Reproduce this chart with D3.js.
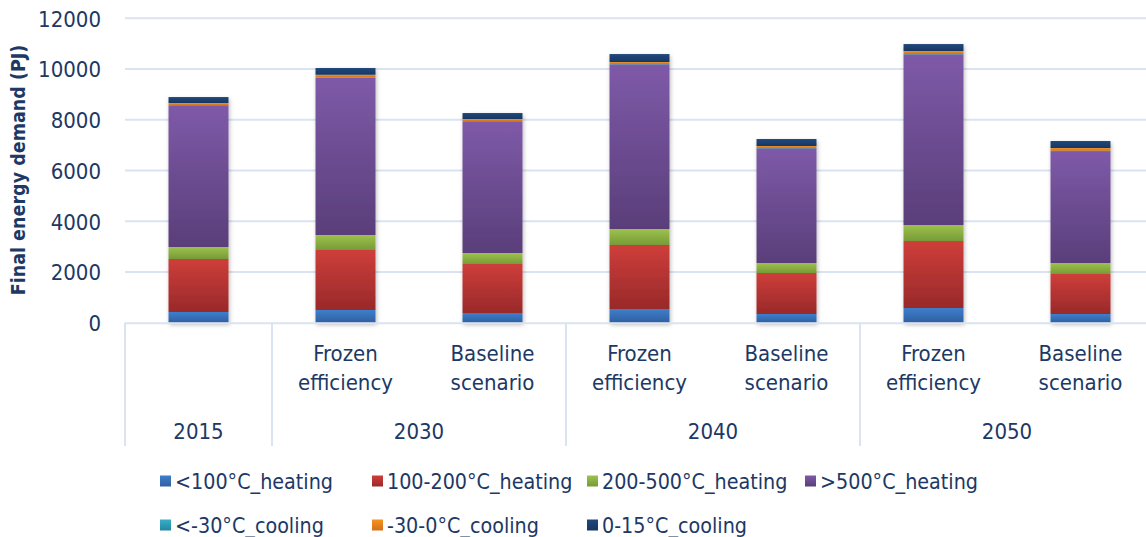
<!DOCTYPE html>
<html>
<head>
<meta charset="utf-8">
<script src="https://cdn.jsdelivr.net/npm/d3@7"></script>
<style>
  html, body { margin: 0; padding: 0; background: #fff; }
  svg { display: block; }
  text { font-family: "Liberation Sans Narrow", "DejaVu Sans Condensed", "Open Sans", sans-serif; fill: #203864; }
</style>
</head>
<body>
<svg id="chart" width="1146" height="537"></svg>
<script>
// Scenario columns: year group and scenario label
const years = ["2015", "2030", "2040", "2050"];
const yearSpans = [1, 2, 2, 2];
const scenarios = ["", "Frozen efficiency", "Baseline scenario", "Frozen efficiency", "Baseline scenario", "Frozen efficiency", "Baseline scenario"];

// Final energy demand (PJ) by temperature band, one value per column
const heatBelow100 = [422, 501, 382, 540, 343, 579, 343];
const heat100to200 = [2089, 2365, 1932, 2523, 1616, 2641, 1577];
const heat200to500 = [473, 591, 433, 630, 394, 631, 433];
const heatAbove500 = [5582, 6201, 5188, 6489, 4518, 6725, 4412];
const coolBelowMinus30 = [15, 15, 15, 15, 15, 15, 15];
const coolMinus30to0 = [79, 102, 80, 79, 79, 118, 106];
const cool0to15 = [236, 265, 236, 315, 276, 276, 277];

const seriesNames = ["<100°C_heating", "100-200°C_heating", "200-500°C_heating", ">500°C_heating",
                     "<-30°C_cooling", "-30-0°C_cooling", "0-15°C_cooling"];
const seriesValues = [heatBelow100, heat100to200, heat200to500, heatAbove500,
                      coolBelowMinus30, coolMinus30to0, cool0to15];
const yTicks = [0, 2000, 4000, 6000, 8000, 10000, 12000];

// Gradient stops (top, bottom) per series
const seriesColors = [
  ["#3e7ecc", "#2f60a0"],
  ["#ce3e3a", "#99292a"],
  ["#9dc24b", "#779a38"],
  ["#7e5aa8", "#5a3e7a"],
  ["#35afcc", "#25869d"],
  ["#f7931f", "#d2701a"],
  ["#21497e", "#173760"]
];

const svg = d3.select("#chart");
const plotLeft = 125, plotRight = 1154, plotTop = 18.3, plotBottom = 322.7, axisBottom = 446;

const rows = scenarios.map((s, i) => {
  const r = { idx: i };
  seriesNames.forEach((n, k) => { r[n] = seriesValues[k][i]; });
  return r;
});

const x = d3.scaleBand().domain(d3.range(scenarios.length))
  .range([plotLeft, plotRight]).paddingInner(0.592).paddingOuter(0.296);
const y = d3.scaleLinear().domain([0, 12000]).range([plotBottom, plotTop]);

const defs = svg.append("defs");
seriesColors.forEach((c, k) => {
  const g = defs.append("linearGradient").attr("id", "grad" + k)
    .attr("x1", 0).attr("y1", 0).attr("x2", 0).attr("y2", 1);
  g.append("stop").attr("offset", "0%").attr("stop-color", c[0]);
  g.append("stop").attr("offset", "100%").attr("stop-color", c[1]);
});
const shadow = defs.append("filter").attr("id", "barShadow")
  .attr("x", "-30%").attr("y", "-10%").attr("width", "160%").attr("height", "120%");
shadow.append("feDropShadow").attr("dx", 1).attr("dy", 2).attr("stdDeviation", 2.2)
  .attr("flood-color", "#000").attr("flood-opacity", 0.28);

// Horizontal gridlines
svg.append("g").selectAll("line").data(yTicks.filter(t => t > 0)).join("line")
  .attr("x1", plotLeft).attr("x2", 1146)
  .attr("y1", d => y(d)).attr("y2", d => y(d))
  .attr("stroke", "#d9e3f2").attr("stroke-width", 2);

// Y axis tick labels
const yAxis = d3.axisLeft(y).tickValues(yTicks).tickSize(0).tickPadding(0).tickFormat(d3.format("d"));
const yg = svg.append("g").attr("transform", "translate(101,0)").call(yAxis);
yg.select(".domain").remove();
yg.selectAll("text").attr("font-size", 22).attr("dy", "0.36em")
  .style("font-family", "\"Liberation Sans Narrow\", \"DejaVu Sans Condensed\", sans-serif")
  .attr("fill", "#203864");

// Y axis title
svg.append("text")
  .attr("transform", "translate(25,170) rotate(-90)")
  .attr("text-anchor", "middle")
  .attr("font-size", 19.5).attr("font-weight", "bold")
  .text("Final energy demand (PJ)");

// Stacked columns
const stacked = d3.stack().keys(seriesNames)(rows);
const columns = svg.append("g").selectAll("g").data(rows).join("g")
  .attr("filter", "url(#barShadow)");
columns.selectAll("rect")
  .data(r => stacked.map((s, k) => ({ k, v: s[r.idx], i: r.idx })))
  .join("rect")
  .attr("x", d => x(d.i))
  .attr("width", x.bandwidth())
  .attr("y", d => y(d.v[1]))
  .attr("height", d => y(d.v[0]) - y(d.v[1]))
  .attr("fill", d => "url(#grad" + d.k + ")");

// Category axis: baseline and group separators
svg.append("line").attr("x1", plotLeft).attr("x2", 1146)
  .attr("y1", plotBottom + 0.5).attr("y2", plotBottom + 0.5)
  .attr("stroke", "#d9e3f2").attr("stroke-width", 2);
let cum = 0;
const bounds = [0];
yearSpans.forEach(s => { cum += s; bounds.push(cum); });
const step = x.step();
svg.append("g").selectAll("line").data(bounds).join("line")
  .attr("x1", b => plotLeft + b * step).attr("x2", b => plotLeft + b * step)
  .attr("y1", plotBottom).attr("y2", axisBottom)
  .attr("stroke", "#d9e3f2").attr("stroke-width", 2);

// Scenario labels (two lines)
const subLabels = svg.append("g").selectAll("text").data(scenarios.map((s, i) => ({ s, i })).filter(d => d.s))
  .join("text")
  .attr("text-anchor", "middle")
  .attr("font-size", 22);
subLabels.each(function (d) {
  const words = d.s.split(" ");
  const t = d3.select(this);
  words.forEach((w, j) => {
    t.append("tspan").attr("x", x(d.i) + x.bandwidth() / 2)
      .attr("y", 361 + j * 29).text(w);
  });
});

// Year labels
svg.append("g").selectAll("text").data(years.map((yv, j) => ({ yv, j })))
  .join("text")
  .attr("x", d => plotLeft + (bounds[d.j] + bounds[d.j + 1]) / 2 * step)
  .attr("y", 439)
  .attr("text-anchor", "middle")
  .attr("font-size", 22)
  .text(d => d.yv);

// Legend
const legendX = [160, 372, 587, 805];
const legendY = [481, 525];
const legend = svg.append("g").selectAll("g").data(seriesNames.map((n, k) => ({ n, k })))
  .join("g")
  .attr("transform", d => `translate(${legendX[d.k % 4]},${legendY[Math.floor(d.k / 4)]})`);
legend.append("rect").attr("x", 0).attr("y", -5.5).attr("width", 11).attr("height", 11)
  .attr("fill", d => "url(#grad" + d.k + ")");
legend.append("text").attr("x", 15).attr("dy", "0.36em").attr("font-size", 21.3)
  .text(d => d.n);
</script>
</body>
</html>
